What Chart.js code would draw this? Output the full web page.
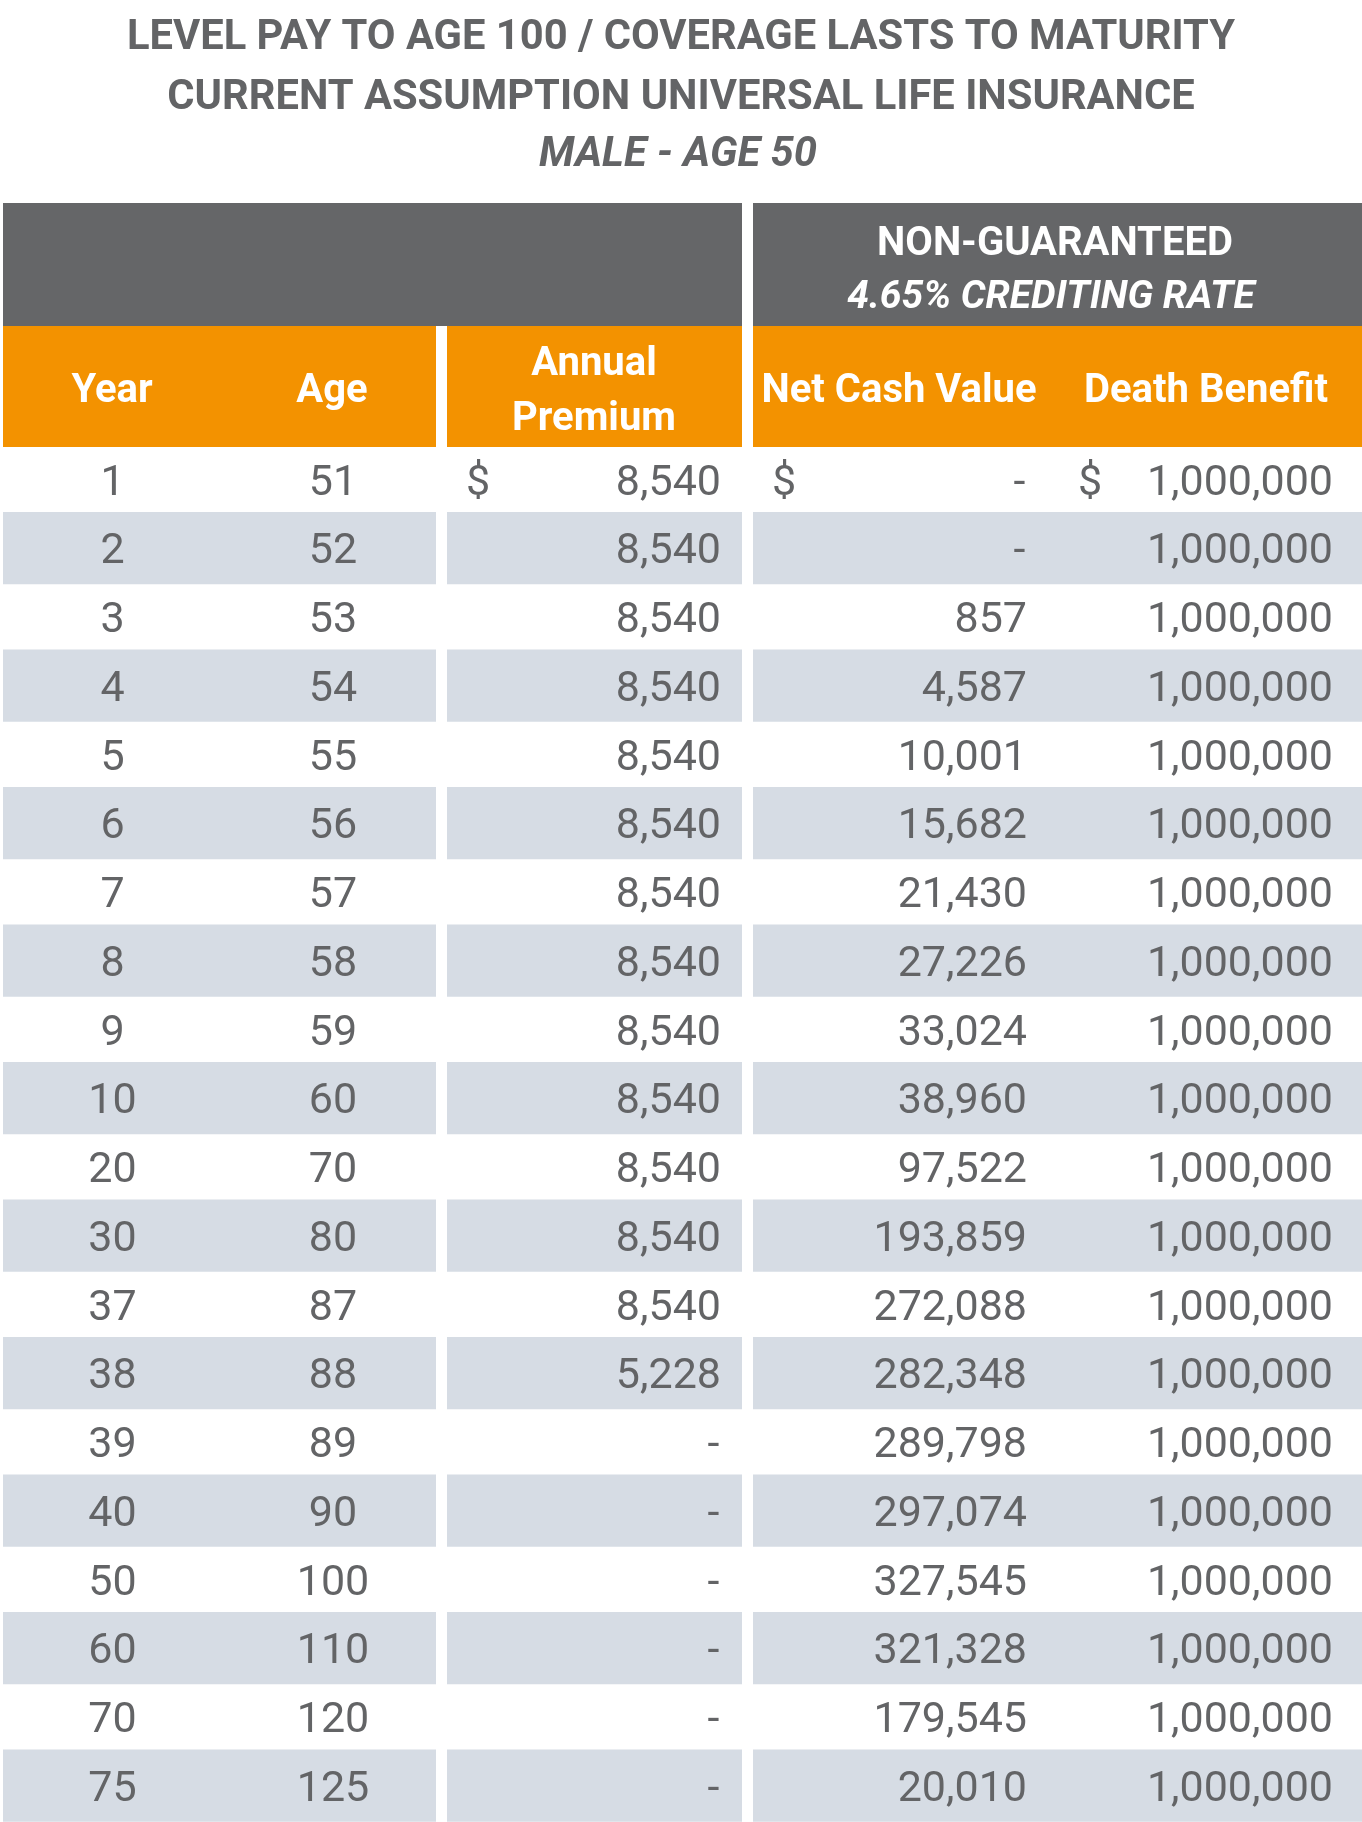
<!DOCTYPE html>
<html>
<head>
<meta charset="utf-8">
<script src="https://cdn.jsdelivr.net/npm/chart.js@4.4.0/dist/chart.umd.min.js"></script>
<style>
  html, body { margin: 0; padding: 0; background: #ffffff; }
  #wrap { width: 1362px; height: 1822px; position: relative; }
  canvas { display: block; }
</style>
</head>
<body>
<div id="wrap"><canvas id="c" width="1362" height="1822"></canvas></div>
<script>
// ---------------- DATA ----------------
const titleLines = [
  'LEVEL PAY TO AGE 100 / COVERAGE LASTS TO MATURITY',
  'CURRENT ASSUMPTION UNIVERSAL LIFE INSURANCE',
  'MALE - AGE 50'
];
const groupHeader = ['NON-GUARANTEED', '4.65% CREDITING RATE'];
const columnHeaders = ['Year', 'Age', 'Annual Premium', 'Net Cash Value', 'Death Benefit'];

const years = ['1','2','3','4','5','6','7','8','9','10','20','30','37','38','39','40','50','60','70','75'];
const ages = [51,52,53,54,55,56,57,58,59,60,70,80,87,88,89,90,100,110,120,125];
const annualPremium = [8540,8540,8540,8540,8540,8540,8540,8540,8540,8540,8540,8540,8540,5228,0,0,0,0,0,0];
const netCashValue = [0,0,857,4587,10001,15682,21430,27226,33024,38960,97522,193859,272088,282348,289798,297074,327545,321328,179545,20010];
const deathBenefit = [1000000,1000000,1000000,1000000,1000000,1000000,1000000,1000000,1000000,1000000,
                      1000000,1000000,1000000,1000000,1000000,1000000,1000000,1000000,1000000,1000000];

// ---------------- LAYOUT / STYLE ----------------
const TEXT = '#636466';
const HEAD_GRAY = '#656668';
const ORANGE = '#F39200';
const BAND = '#D6DCE4';
const FONT = 'Roboto, "Noto Sans", Arial, sans-serif';

// column blocks on the x scale (scale units)
const blockA = [3, 436];     // Year + Age
const blockB = [447, 742];   // Annual Premium
const blockC = [753, 1362];  // Net Cash Value + Death Benefit

function bandData(block) {
  return years.map((y, i) => (i % 2 === 1 ? [block[0], block[1]] : null));
}
function fmt(v) {
  return v === 0 ? '-' : v.toLocaleString('en-US');
}

const capOff = 0.3555; // cap-height centre offset (em) for Roboto

function textAt(ctx, str, x, capCenterY, size, weight, align, color, italic) {
  ctx.font = (italic ? 'italic ' : '') + weight + ' ' + size + 'px ' + FONT;
  ctx.fillStyle = color;
  ctx.textAlign = align;
  ctx.textBaseline = 'alphabetic';
  ctx.fillText(str, x, capCenterY + capOff * size);
}

const tablePlugin = {
  id: 'tablePlugin',
  beforeDatasetsDraw(chart) {
    const ctx = chart.ctx;
    const xs = chart.scales.x;
    const px = v => xs.getPixelForValue(v);
    ctx.save();
    // titles
    const cx = chart.width / 2;
    textAt(ctx, titleLines[0], cx, 34.5, 41.7, 'bold', 'center', TEXT);
    textAt(ctx, titleLines[1], cx, 94, 41.7, 'bold', 'center', TEXT);
    textAt(ctx, titleLines[2], cx - 3, 151.5, 41.7, 'bold', 'center', TEXT, true);

    // grey group header
    ctx.fillStyle = HEAD_GRAY;
    ctx.fillRect(px(blockA[0]), 203, px(blockB[1]) - px(blockA[0]), 123);
    ctx.fillRect(px(blockC[0]), 203, px(blockC[1]) - px(blockC[0]), 123);
    // orange header
    ctx.fillStyle = ORANGE;
    [blockA, blockB, blockC].forEach(b => {
      ctx.fillRect(px(b[0]), 326, px(b[1]) - px(b[0]), 121);
    });
    ctx.restore();
  },
  afterDatasetsDraw(chart) {
    const ctx = chart.ctx;
    const xs = chart.scales.x;
    const ys = chart.scales.y;
    const px = v => xs.getPixelForValue(v);
    ctx.save();

    // group header text
    textAt(ctx, groupHeader[0], px(1055), 241, 40, 'bold', 'center', '#ffffff');
    textAt(ctx, groupHeader[1], px(1051), 294, 39, 'bold', 'center', '#ffffff', true);

    // column headers
    textAt(ctx, columnHeaders[0], px(112), 388, 40, 'bold', 'center', '#ffffff');
    textAt(ctx, columnHeaders[1], px(332), 388, 40, 'bold', 'center', '#ffffff');
    const ap = columnHeaders[2].split(' ');
    textAt(ctx, ap[0], px(594), 361, 40, 'bold', 'center', '#ffffff');
    textAt(ctx, ap[1], px(594), 416, 40, 'bold', 'center', '#ffffff');
    textAt(ctx, columnHeaders[3], px(899), 388, 40, 'bold', 'center', '#ffffff');
    textAt(ctx, columnHeaders[4], px(1206), 388, 40, 'bold', 'center', '#ffffff');

    // body cells
    const S = 43;
    years.forEach((yr, i) => {
      const cy = ys.getPixelForValue(i);
      textAt(ctx, yr, px(112.5), cy, S, 'normal', 'center', TEXT);
      textAt(ctx, String(ages[i]), px(333), cy, S, 'normal', 'center', TEXT);
      const vals = [annualPremium[i], netCashValue[i], deathBenefit[i]];
      const rights = [721, 1027, 1333];
      vals.forEach((v, k) => {
        const r = v === 0 ? rights[k] - 1.5 : rights[k];
        textAt(ctx, fmt(v), px(r), cy, S, 'normal', 'right', TEXT);
      });
      if (i === 0) {
        [466, 772, 1078].forEach(l => textAt(ctx, '$', px(l), cy, S, 'normal', 'left', TEXT));
      }
    });
    ctx.restore();
  }
};

const bandStyle = {
  backgroundColor: BAND,
  borderWidth: 0,
  barPercentage: 1.0545,
  categoryPercentage: 1.0,
  grouped: false,
  clip: false
};

new Chart(document.getElementById('c'), {
  type: 'bar',
  data: {
    labels: years,
    datasets: [
      Object.assign({ label: 'Year / Age', data: bandData(blockA) }, bandStyle),
      Object.assign({ label: 'Annual Premium', data: bandData(blockB) }, bandStyle),
      Object.assign({ label: 'Non-Guaranteed', data: bandData(blockC) }, bandStyle)
    ]
  },
  options: {
    indexAxis: 'y',
    responsive: false,
    maintainAspectRatio: false,
    devicePixelRatio: 1,
    animation: false,
    events: [],
    layout: { padding: { top: 445, bottom: 2, left: 0, right: 0 } },
    scales: {
      x: { type: 'linear', min: 0, max: 1362, display: false },
      y: { type: 'category', offset: true, display: false }
    },
    plugins: { legend: { display: false }, tooltip: { enabled: false }, title: { display: false } }
  },
  plugins: [tablePlugin]
});
</script>
</body>
</html>
